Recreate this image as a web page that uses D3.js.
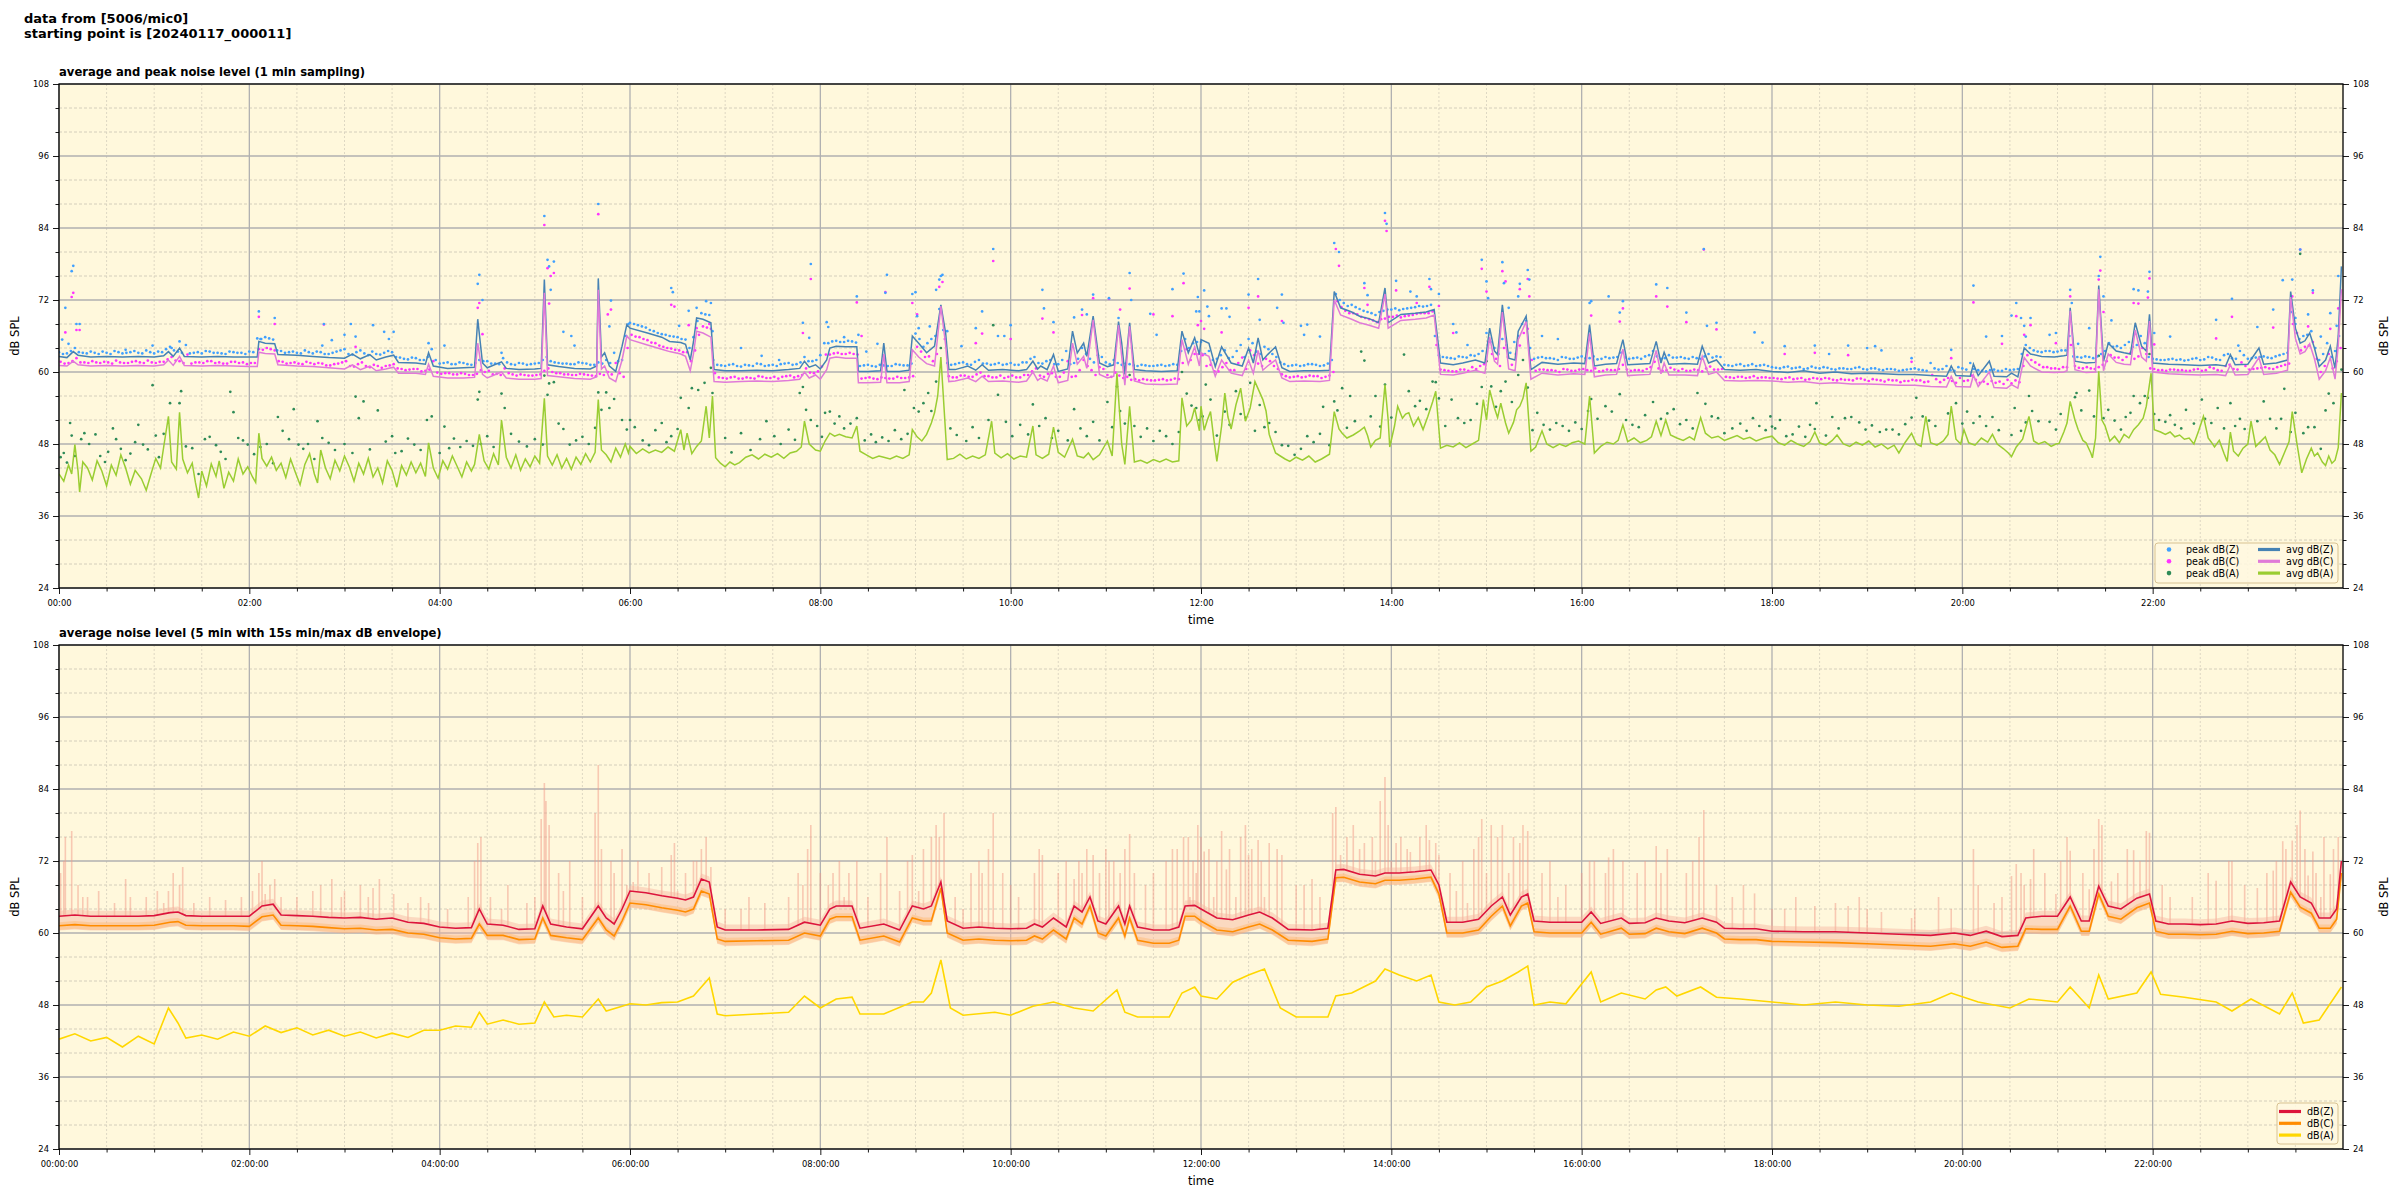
<!DOCTYPE html>
<html><head><meta charset="utf-8">
<script src="https://cdn.jsdelivr.net/npm/d3@7"></script>
<style>
body{margin:0;background:#fff}
svg text{font-family:"DejaVu Sans",sans-serif;fill:#000}
</style>
</head><body>
<svg id="c" width="2400" height="1200"></svg>
<script>
// ---------------- DATA (minutes since 00:00, dB SPL) ----------------
const hourTicks = [0,2,4,6,8,10,12,14,16,18,20,22];
const dbTicks = [24,36,48,60,72,84,96,108];

const avgZ = [[0,62.6],[5,62.4],[9,63.4],[12,62.8],[20,62.5],[30,62.6],[40,62.5],[50,62.6],[60,62.5],[66,62.7],[69,63.4],[72,62.6],[76,64],[79,62.6],[90,62.5],[100,62.6],[110,62.5],[120,62.5],[125,62.5],[126,65.1],[130,64.8],[136,64.7],[138,62.9],[150,62.8],[160,62.6],[170,62.4],[180,62.3],[185,63.0],[190,62.2],[196,62.9],[200,62],[206,62.5],[211,62.8],[214,61.6],[225,61.5],[231,61.3],[233,63.2],[236,61.0],[245,60.6],[255,60.7],[262,60.8],[264,68.8],[267,61.5],[270,60.7],[279,61.7],[282,60.6],[290,60.4],[300,60.5],[304,60.6],[306,75.4],[308,61.2],[315,60.9],[325,60.6],[335,60.5],[339,61],[340,75.6],[342,62.5],[344,63.2],[347,61],[351,60.1],[355,64.3],[358,67.9],[360,67.3],[371,66.5],[380,65.8],[385,65.1],[392,64.9],[395,64.6],[398,62],[400,65],[402,69],[406,68.8],[411,68.2],[413,60.4],[420,60.2],[430,60.2],[440,60.3],[450,60.2],[460,60.4],[467,60.6],[470,61.8],[473,60.8],[477,61.2],[480,60.5],[484,62],[486,64],[490,64.3],[496,64.2],[503,64.2],[504,60.1],[510,60.1],[518,60.2],[520,64.8],[522,60.1],[530,60.1],[536,60.3],[538,66],[542,64.8],[547,63.2],[552,64.3],[556,71.2],[559,66.5],[561,60.4],[565,60.4],[573,61],[578,60.3],[582,61.2],[586,60.3],[595,60.4],[605,60.2],[610,60.4],[614,61.8],[617,60.5],[619,61],[623,60.4],[627,62.9],[630,60.1],[636,60.5],[639,66.8],[642,63.2],[646,64.8],[648,62.6],[652,69.3],[656,61.5],[661,60.9],[665,61.2],[668,68.4],[670,64.8],[672,59.6],[675,68.2],[678,60.4],[685,60.2],[695,60.1],[705,60.2],[708,66.8],[712,63.2],[716,65.7],[719,62.9],[720,65.4],[725,64.8],[729,60.9],[733,64.2],[739,61.5],[746,61],[750,64],[753,61.5],[756,65.7],[759,62],[762,62.9],[767,64.2],[771,60.7],[776,60.1],[785,60.2],[795,60.2],[801,60.3],[804,73.4],[808,70.7],[815,70],[820,69.3],[826,68.9],[832,68.2],[836,74],[838,68.2],[846,69.6],[855,69.8],[862,70],[867,70.4],[871,61.5],[879,61.2],[885,61.5],[893,62],[899,61.5],[902,67.3],[905,63.5],[907,62.9],[910,71.2],[914,62.3],[918,62],[920,66.8],[925,69.3],[928,60.4],[935,61.6],[945,61.3],[955,61.5],[962,61.4],[965,67.9],[968,61],[975,61.3],[982,61.4],[986,65.4],[989,61.2],[995,61.3],[1003,61.4],[1007,65.1],[1010,61.5],[1012,63.3],[1015,61.3],[1025,61.4],[1033,61.3],[1036,64.3],[1040,61.5],[1045,62],[1050,60.4],[1060,60.3],[1070,60.4],[1080,60.1],[1090,59.9],[1100,60.2],[1110,59.8],[1120,60],[1130,59.7],[1140,59.8],[1150,59.7],[1160,59.6],[1170,59.6],[1180,59.4],[1190,59.3],[1193,61],[1196,59.4],[1205,59.3],[1207,61.3],[1210,59.4],[1217,61.8],[1220,59.3],[1228,59.2],[1231,59.8],[1235,59.2],[1239,64],[1243,63],[1250,62.6],[1258,62.5],[1264,62.7],[1266,62.8],[1268,70.7],[1271,61.8],[1278,61.5],[1284,61.6],[1286,74.4],[1289,61.8],[1292,64.8],[1297,63.5],[1302,63.2],[1306,63],[1309,68.2],[1313,64.3],[1316,63.5],[1318,69.6],[1320,61.5],[1330,61.3],[1340,61.2],[1350,61.1],[1360,61.2],[1366,61],[1369,62.9],[1372,61.2],[1380,61.3],[1387,64],[1390,61.3],[1398,61.5],[1405,62],[1407,73.4],[1410,67.3],[1413,64.8],[1416,65.2],[1419,66.5],[1422,64],[1425,60.9],[1429,62],[1432,64.3],[1435,60.6],[1437,66],[1439,77.6]];

const avgC = [[0,61.1],[5,61],[9,61.8],[12,61.2],[20,61],[30,61.1],[40,61],[50,61.1],[60,61],[66,61.2],[69,62],[72,61.1],[76,62.6],[79,61.1],[90,61],[100,61.1],[110,61],[120,60.9],[125,60.9],[126,63.3],[130,63.1],[136,63],[138,61.2],[150,61],[160,60.9],[170,60.7],[180,60.5],[185,61.2],[190,60.4],[196,61],[200,60.2],[206,60.5],[211,60.8],[214,59.8],[225,59.8],[231,59.6],[233,61.3],[236,59.3],[245,59],[255,59],[262,59.1],[264,64.8],[267,59.6],[270,59],[279,60],[282,59],[290,58.8],[300,58.8],[304,58.9],[306,73.2],[308,59.4],[315,59.2],[325,58.9],[335,58.8],[339,59.2],[340,73.7],[342,60.5],[344,61],[347,59],[351,58.4],[355,62],[358,66],[360,65.4],[371,64.5],[380,63.8],[385,63.4],[392,63],[395,62.6],[398,60.2],[400,63],[402,66.8],[406,66.5],[411,65.8],[413,58.4],[420,58.3],[430,58.4],[440,58.5],[450,58.4],[460,58.6],[467,58.8],[470,60],[473,59],[477,59.5],[480,58.8],[484,60.4],[486,62.3],[490,62.5],[496,62.3],[503,62.3],[504,58.2],[510,58.2],[518,58.3],[520,63],[522,58.2],[530,58.2],[536,58.4],[538,63.7],[542,62.5],[547,61.4],[552,61],[556,71],[559,64.5],[561,58.4],[565,58.5],[573,59],[578,58.4],[582,59.3],[586,58.4],[595,58.5],[605,58.3],[610,58.5],[614,60],[617,58.6],[619,59],[623,58.5],[627,61],[630,58.2],[636,58.6],[639,64.8],[642,61.3],[646,62.6],[648,60.6],[652,68.7],[656,59.6],[661,59],[665,59.3],[668,67.8],[670,62.6],[672,57.8],[675,67.6],[678,58.5],[685,58],[695,57.9],[705,58],[708,65.4],[712,61.3],[716,64.2],[719,61],[720,63.2],[725,62.6],[729,59.3],[733,62],[739,59.8],[746,59.4],[750,62],[753,59.8],[756,63.6],[759,60.3],[762,61],[767,62],[771,59],[776,58.4],[785,58.5],[795,58.4],[801,58.6],[804,72],[808,69.5],[815,68.8],[820,68.2],[826,67.8],[832,67.3],[836,73],[838,67.3],[846,68.6],[855,68.8],[862,69],[867,69.5],[871,59.6],[879,59.5],[885,59.8],[893,60.3],[899,59.8],[902,65.8],[905,61.8],[907,61.3],[910,70],[914,60.5],[918,60.2],[920,65.4],[925,68.4],[928,58.8],[935,59.8],[945,59.5],[955,59.7],[962,59.6],[965,66.4],[968,59.2],[975,59.5],[982,59.6],[986,63.8],[989,59.4],[995,59.5],[1003,59.6],[1007,63.6],[1010,59.7],[1012,61.5],[1015,59.5],[1025,59.5],[1033,59.4],[1036,62.6],[1040,59.6],[1045,60],[1050,58.6],[1060,58.5],[1070,58.6],[1080,58.5],[1090,58.3],[1100,58.4],[1110,58.1],[1120,58.2],[1130,58],[1140,58],[1150,57.9],[1160,57.8],[1170,57.8],[1180,57.6],[1190,57.5],[1193,59.3],[1196,57.6],[1205,57.5],[1207,59.5],[1210,57.6],[1217,60],[1220,57.4],[1228,57.3],[1231,57.9],[1235,57.3],[1239,62.4],[1243,61],[1250,60],[1258,59.9],[1264,60],[1266,60.2],[1268,70.2],[1271,60.4],[1278,59.9],[1284,60],[1286,73.8],[1289,60.2],[1292,63],[1297,61.6],[1302,61.3],[1306,61.2],[1309,67],[1313,62.5],[1316,61.8],[1318,68.5],[1320,60],[1330,59.7],[1340,59.6],[1350,59.5],[1360,59.6],[1366,59.4],[1369,61.2],[1372,59.5],[1380,59.6],[1387,62.4],[1390,59.6],[1398,59.8],[1405,60.3],[1407,72.5],[1410,65.6],[1413,63],[1416,63.4],[1419,64.7],[1422,62.2],[1425,58.8],[1429,60.2],[1432,62.4],[1435,58.8],[1437,64.4],[1439,73.8]];

const avgA = [[0,43],[3,41.8],[6,44.5],[8,43],[10,47.9],[12,43.5],[13,40],[15,45],[18,44],[21,42],[24,45.2],[27,43.5],[30,41],[33,44.5],[36,42.8],[39,46.2],[42,44],[45,41.3],[48,43.6],[52,42.2],[55,40.3],[58,43],[61,45.6],[64,44],[66,47.5],[69,52.6],[71,45],[74,43.8],[76,53.3],[78,45.5],[81,43.2],[84,44.8],[86,41.6],[88,39],[90,43.5],[93,41],[96,44.7],[99,42.6],[101,45.2],[104,40.6],[107,43.3],[110,41.8],[113,45.5],[116,43],[119,44.2],[122,42.5],[124,41.6],[126,49.8],[128,45.6],[131,44.3],[134,45.8],[137,43.6],[140,44.8],[143,42.4],[146,45.5],[149,43.3],[152,41.2],[155,44.6],[158,46.4],[161,43],[163,41.5],[165,47],[168,44],[171,42.2],[174,45.3],[177,43.5],[180,46],[183,44.2],[186,41.8],[189,44.8],[192,43],[195,45.6],[198,42.5],[201,44],[204,41.5],[207,45.2],[210,43.6],[213,40.8],[216,44.4],[219,42.8],[222,45],[225,43.2],[228,44.8],[231,42.6],[233,48.2],[236,44],[239,42.3],[242,45.2],[245,43.8],[248,46],[251,44.3],[254,42.5],[257,45],[260,43.5],[262,44.6],[265,49.6],[268,45.2],[271,43.8],[274,46.4],[277,44.5],[279,52],[282,45.8],[285,44],[288,46.2],[291,43.6],[294,45.5],[297,44.2],[300,46],[303,44.8],[306,55.6],[308,46],[311,44.5],[314,46.2],[317,44],[320,45.6],[323,43.8],[326,45.8],[329,44.6],[332,46.4],[335,45],[338,46.6],[340,55.4],[342,47],[345,46.2],[348,45],[351,47.3],[354,45.8],[357,48],[359,46.5],[360,47.6],[364,46.4],[368,47.2],[372,46.5],[376,47],[380,46.6],[384,47.5],[388,46.8],[392,50.4],[394,47],[396,49.8],[399,46.4],[402,47.6],[405,48.5],[408,54.3],[410,49],[412,56],[414,45.7],[417,44.8],[420,44.2],[423,45],[426,44.5],[429,44.9],[433,45.8],[437,46.2],[441,45.5],[445,46.3],[449,45.8],[453,46.4],[457,45.6],[461,46.5],[465,46.8],[468,47.5],[470,51.8],[473,48],[477,47],[480,46.8],[483,48.5],[486,49.8],[489,49.3],[492,49.6],[496,49.2],[500,49],[503,51],[505,46.8],[509,46.2],[513,45.6],[517,46],[520,45.8],[524,45.5],[528,46],[532,45.6],[536,46.2],[538,50.4],[541,49.2],[544,48.5],[547,49.6],[550,51.5],[552,53.2],[554,56],[556,62.5],[558,54],[560,45.4],[564,45.6],[568,46.3],[572,45.5],[576,46],[580,45.6],[584,46.2],[588,51.8],[590,46.5],[594,45.7],[598,46.4],[602,45.5],[606,46],[610,45.8],[614,51],[616,46.2],[620,45.6],[624,46.3],[627,50.8],[630,46.6],[634,45.8],[639,48.8],[642,46],[646,45.7],[649,46.5],[652,45.4],[656,46.2],[661,48.5],[664,46],[667,59.8],[670,48],[672,44.6],[675,54.3],[678,45],[682,45.3],[686,44.8],[690,45.4],[694,45],[698,45.5],[702,45],[706,45.2],[708,55.7],[711,51],[714,52],[716,54],[719,50.2],[720,54.3],[722,50.3],[724,52],[726,53.4],[728,49],[730,45.1],[733,51],[735,56.5],[737,52.5],[739,50.5],[742,54.5],[745,57.3],[748,51.8],[751,54],[754,58.4],[757,56.6],[759,55.4],[761,53.5],[763,49.6],[765,48],[767,46.5],[770,46],[773,45.5],[776,45.1],[780,45.8],[784,45.3],[788,46],[792,45],[796,45.5],[801,46.3],[804,53.4],[807,50.5],[809,49.8],[812,49],[816,49.5],[820,50.2],[823,50.8],[825,49.4],[827,47.5],[830,48.6],[833,49],[836,57.9],[838,52],[839,47.5],[842,51],[844,54.3],[847,52.3],[849,53],[851,53.2],[854,51],[857,52.4],[860,50.4],[863,52.6],[866,55],[868,56.8],[871,47.3],[875,47.8],[879,47.5],[883,48.2],[887,47.4],[891,48],[895,48.6],[898,55.4],[900,52],[902,57],[905,54],[907,52.4],[909,54.8],[912,51.5],[914,49.8],[917,51.6],[919,53.7],[921,54.3],[923,55.6],[925,58.2],[928,46.8],[931,47.5],[935,50.2],[938,48],[942,47.4],[946,48],[950,47.6],[954,48.2],[958,48.5],[962,48],[965,56],[968,46.5],[972,47.6],[976,48.3],[980,48],[983,48.6],[986,51.2],[989,48.4],[993,49],[997,48.2],[1001,48.6],[1004,49.2],[1007,51.8],[1010,49.4],[1013,52],[1016,49.5],[1020,49],[1024,48.6],[1028,49.2],[1031,48.7],[1035,52.4],[1038,49.8],[1042,49],[1046,49.3],[1050,48.6],[1054,49],[1058,49.4],[1062,48.8],[1066,49.1],[1070,48.5],[1075,49],[1080,49.3],[1084,48.2],[1088,47.8],[1092,48.6],[1096,48],[1100,47.6],[1104,48.4],[1107,50],[1110,48.2],[1114,47.8],[1118,48.6],[1121,49.5],[1125,48],[1129,47.6],[1133,48.3],[1137,47.8],[1141,48.5],[1145,47.5],[1149,48],[1153,47.2],[1157,47.8],[1160,46.5],[1164,48.3],[1168,49.8],[1171,48],[1174,47.6],[1177,52.6],[1180,48.2],[1184,47.8],[1188,48.5],[1191,49.6],[1193,54.3],[1196,48.8],[1199,48],[1201,50.4],[1204,48.2],[1208,47.8],[1212,49],[1216,48.3],[1219,49.6],[1222,48],[1226,47.2],[1229,46.5],[1231,45.9],[1234,47.5],[1238,48.8],[1242,52.6],[1245,48.5],[1248,48],[1252,48.4],[1256,47.6],[1259,48],[1261,48.1],[1264,50],[1266,51.5],[1268,55.1],[1271,52],[1273,50.4],[1276,48.6],[1278,48.2],[1281,46.5],[1282,45.7],[1284,49],[1286,60.1],[1288,52],[1290,51],[1293,48.5],[1296,49.3],[1299,48.2],[1302,49.6],[1305,49],[1308,50.4],[1311,51.2],[1314,52.3],[1316,54.3],[1319,59.8],[1321,50.4],[1325,50],[1328,49.6],[1331,50],[1334,49.2],[1337,49.5],[1340,48.8],[1343,49],[1346,48],[1349,50.2],[1352,52.6],[1355,49],[1357,48.3],[1359,47.5],[1362,48.6],[1365,46.4],[1367,45.1],[1369,50],[1371,46.8],[1374,46],[1377,47.3],[1380,48],[1382,51.8],[1385,47.6],[1388,48.4],[1391,49.2],[1394,47],[1397,46.2],[1400,44.6],[1403,46.5],[1406,48.4],[1408,53.4],[1411,48],[1414,43.2],[1417,45.5],[1420,47.3],[1422,46],[1424,46.5],[1427,45],[1429,44.4],[1431,46],[1433,44.8],[1435,45.3],[1437,47.4],[1439,56.5]];

// dense peak bands: value at minute index*5 (band1) and index*5+2.5 (band2)
const peakZband = [63.3,63.1,64.0,63.2,63.4,63.0,63.2,63.5,63.1,63.3,63.2,63.6,63.1,63.3,64.2,63.4,64.5,63.2,63.1,63.4,63.2,63.0,63.3,63.2,63.4,65.6,65.8,65.4,63.5,63.3,63.2,63.6,63.1,63.3,63.0,63.4,63.8,62.9,63.6,62.8,63.0,63.2,63.3,62.4,62.1,62.3,62.0,63.8,61.4,61.6,61.3,61.5,61.2,62.0,61.8,61.4,62.3,61.3,61.5,61.2,61.4,62.0,61.8,61.5,61.4,61.3,61.5,61.2,61.6,62.0,63.2,62.0,68.2,67.8,67.4,66.8,66.3,66.0,65.8,65.4,65.8,69.8,69.5,61.2,61.0,61.3,60.9,61.1,61.4,61.0,61.2,61.3,61.5,61.3,62.5,61.8,62.8,64.8,65.2,65.0,65.1,61.0,61.2,60.9,61.1,61.0,61.2,61.1,66.4,64.2,65.5,70.5,61.5,61.3,61.6,61.2,62.0,61.4,61.3,61.2,61.5,61.2,61.6,62.5,61.4,62.0,61.3,63.5,61.5,64.0,62.2,62.8,61.6,62.0,61.2,61.3,61.0,61.1,61.0,61.2,61.1,61.2,65.5,64.8,65.0,63.5,62.2,63.6,62.5,64.5,65.5,63.4,64.2,63.0,61.6,61.0,61.2,61.1,61.3,61.0,61.4,73.0,71.5,71.2,70.5,70.0,69.5,70.2,70.4,70.3,70.6,70.8,70.9,71.2,62.8,62.4,62.2,62.5,62.8,63.0,66.5,64.0,65.5,63.2,66.0,68.5,62.2,62.5,62.3,62.0,62.4,62.2,62.6,62.3,62.1,62.5,62.4,63.2,62.2,62.4,62.6,63.5,62.2,62.8,62.4,62.3,62.5,62.2,63.0,62.6,61.2,61.0,61.3,61.1,61.0,61.2,60.8,60.6,60.9,60.7,60.5,60.9,60.6,60.7,60.4,60.6,60.5,60.8,60.4,60.6,60.3,60.5,60.2,60.4,60.6,60.3,61.5,60.4,61.0,60.2,60.6,61.5,60.3,60.1,60.4,60.2,60.3,60.5,64.5,63.6,63.3,63.5,63.4,63.6,62.6,62.4,62.5,62.6,63.5,64.2,64.0,65.0,64.5,64.8,62.2,62.0,62.1,62.0,61.9,62.2,62.0,62.5,62.1,62.8,62.3,63.5,62.2,62.4,62.6,62.3,62.8,63.2,68.0,66.0,66.8,62.0,64.8,63.5];
const peakZband2 = [63.0,63.5,63.3,63.1,63.2,63.4,63.0,63.3,63.2,63.5,63.1,63.3,63.4,63.8,63.6,63.2,63.1,63.3,63.5,63.2,63.1,63.4,63.2,63.0,63.3,65.5,65.6,63.6,63.2,63.4,63.1,63.3,63.4,63.0,63.2,63.6,63.0,63.3,63.1,63.4,62.9,63.5,62.5,62.2,62.4,62.0,62.5,62.0,61.5,61.3,61.6,61.3,61.5,61.8,61.4,61.3,61.6,61.2,61.4,61.3,61.5,62.5,61.6,61.4,61.3,61.6,61.4,61.2,61.4,61.5,61.8,66.0,68.0,67.6,67.0,66.5,66.2,65.9,65.5,64.0,68.5,69.6,62.0,61.1,61.2,61.0,61.2,61.0,61.3,61.1,61.0,61.4,61.2,61.6,61.8,62.0,64.8,65.1,65.0,65.2,64.9,61.1,61.0,61.2,61.0,61.3,61.1,61.4,65.5,64.8,66.0,67.0,61.2,61.5,61.3,61.7,61.4,61.2,61.5,61.3,61.2,61.6,62.2,61.5,61.8,61.3,62.0,61.3,62.2,63.0,61.6,62.5,61.3,61.5,61.4,61.1,61.2,61.0,61.1,61.0,61.3,63.5,64.0,65.0,63.0,62.0,62.8,62.3,63.5,62.5,64.8,63.0,63.8,62.5,61.3,61.1,61.0,61.3,61.2,61.1,62.0,72.0,71.0,70.8,70.2,69.8,70.0,70.4,70.6,70.5,70.7,71.0,71.0,66.0,62.5,62.3,62.6,62.4,62.7,63.5,65.0,63.0,64.5,65.0,68.0,64.0,62.4,62.3,62.2,62.5,62.2,62.4,62.3,62.6,62.2,62.3,62.5,62.4,62.3,62.2,62.8,62.6,62.3,62.4,62.5,62.2,62.3,62.6,62.4,62.5,61.1,61.2,61.0,61.3,61.1,61.0,60.7,60.8,60.6,60.8,60.6,60.7,60.8,60.5,60.6,60.5,60.7,60.5,60.6,60.4,60.5,60.4,60.3,60.5,60.4,60.2,60.6,60.5,60.3,60.8,60.4,60.5,60.2,60.3,60.2,60.5,60.4,63.0,64.0,63.4,63.5,63.3,63.6,66.0,62.5,62.6,62.3,63.0,64.8,64.3,64.5,64.2,66.0,62.5,62.1,62.0,62.2,62.1,62.0,62.3,62.1,62.4,62.0,63.0,62.2,62.8,62.3,62.5,62.4,62.6,63.0,70.0,65.5,66.2,64.0,63.0,62.5,66.0];
const peakCband = [61.7,61.5,62.3,61.6,61.8,61.5,61.6,61.9,61.5,61.7,61.6,61.9,61.5,61.7,62.5,61.8,62.9,61.6,61.5,61.8,61.6,61.4,61.7,61.6,61.5,63.8,64.0,63.6,61.7,61.5,61.4,61.7,61.3,61.4,61.1,61.4,61.8,60.9,61.6,60.8,61.0,61.0,61.3,60.5,60.4,60.5,60.2,61.8,59.7,59.8,59.6,59.7,59.5,60.3,60.2,59.7,60.6,59.6,59.6,59.4,59.5,60.2,60.0,59.8,59.6,59.5,59.6,59.4,59.7,60.0,61.5,59.2,66.2,65.8,65.3,64.8,64.2,63.9,63.6,63.3,63.6,67.6,67.2,59.1,58.9,59.2,58.9,59.0,59.3,59.0,59.2,59.2,59.4,59.3,60.6,59.8,60.9,62.9,63.2,63.0,63.0,58.9,59.1,58.8,59.0,58.9,59.0,59.1,64.2,62.5,61.8,70.0,59.3,59.1,59.4,59.2,59.9,59.3,59.1,59.0,59.4,59.1,59.5,60.6,59.2,59.8,59.2,61.8,59.3,62.0,60.3,60.8,59.5,59.9,59.0,58.7,58.6,58.7,58.6,58.8,58.7,58.8,63.8,63.0,62.8,61.2,60.1,61.5,60.3,62.4,63.6,61.4,62.2,61.0,59.6,59.1,59.3,59.2,59.3,59.0,59.4,71.8,70.2,69.8,69.2,68.8,68.3,68.9,69.2,69.1,69.4,69.7,69.8,70.1,60.4,60.2,60.1,60.4,60.8,61.0,65.0,62.2,64.0,61.2,64.4,67.2,60.2,60.4,60.3,60.0,60.4,60.2,60.5,60.2,60.1,60.4,60.3,61.2,60.2,60.3,60.5,61.7,60.2,60.7,60.2,60.2,60.4,60.1,60.9,60.4,59.2,59.0,59.2,59.1,59.0,59.1,59.0,58.8,59.1,58.9,58.7,59.0,58.8,58.9,58.6,58.7,58.6,58.9,58.5,58.7,58.4,58.6,58.3,58.5,58.6,58.3,59.5,58.3,59.0,58.2,58.5,59.4,58.2,58.0,58.2,58.0,58.1,58.3,62.8,61.6,60.8,60.6,60.5,60.8,61.0,60.6,60.6,60.8,61.8,62.4,62.0,63.2,62.6,63.0,60.5,60.3,60.4,60.3,60.2,60.4,60.2,60.8,60.3,61.0,60.5,61.6,60.4,60.6,60.8,60.5,61.0,61.4,66.5,64.2,65.0,60.0,63.0,61.8];
const peakCband2 = [61.4,61.8,61.6,61.5,61.6,61.7,61.4,61.6,61.5,61.8,61.5,61.6,61.7,62.1,61.9,61.5,61.4,61.6,61.8,61.5,61.4,61.7,61.5,61.3,61.5,63.7,63.8,61.8,61.4,61.6,61.3,61.5,61.5,61.1,61.3,61.6,61.0,61.3,61.0,61.2,60.7,61.1,60.6,60.3,60.5,60.1,60.4,59.9,59.8,59.6,59.8,59.5,59.7,60.0,59.6,59.5,59.8,59.4,59.5,59.4,59.6,60.6,59.8,59.6,59.5,59.7,59.5,59.3,59.5,59.6,59.8,64.0,65.9,65.5,64.9,64.4,64.0,63.7,63.3,61.8,66.2,67.4,59.8,59.0,59.1,58.9,59.1,58.9,59.2,59.0,58.9,59.3,59.1,59.5,59.9,60.1,62.9,63.1,63.0,63.2,62.9,59.0,58.9,59.1,58.9,59.2,59.0,59.3,63.4,62.6,63.0,65.5,59.1,59.4,59.2,59.6,59.3,59.1,59.4,59.2,59.1,59.5,60.1,59.4,59.7,59.2,59.9,59.2,60.3,61.0,59.5,60.5,59.2,59.4,59.2,58.8,58.8,58.6,58.7,58.6,58.9,61.5,62.0,63.0,61.0,60.1,60.8,60.3,61.5,60.5,62.8,61.0,61.8,60.5,59.3,59.2,59.1,59.4,59.3,59.2,60.0,70.8,69.8,69.6,69.0,68.6,68.8,69.2,69.4,69.3,69.5,69.8,69.8,64.5,60.3,60.1,60.4,60.2,60.5,61.3,63.0,61.0,62.5,63.0,66.5,62.0,60.4,60.3,60.2,60.5,60.2,60.4,60.3,60.6,60.2,60.3,60.5,60.4,60.3,60.2,60.8,60.6,60.3,60.4,60.5,60.2,60.3,60.6,60.4,60.5,59.1,59.2,59.0,59.3,59.1,59.0,58.9,59.0,58.8,59.0,58.8,58.9,59.0,58.7,58.8,58.7,58.9,58.7,58.8,58.6,58.7,58.6,58.5,58.7,58.6,58.4,58.8,58.7,58.5,59.0,58.6,58.7,58.4,58.5,58.4,58.7,58.6,61.0,62.0,61.2,60.8,60.6,60.8,64.5,60.7,60.8,60.5,61.2,62.8,62.4,62.5,62.2,64.0,60.6,60.3,60.2,60.4,60.3,60.2,60.5,60.3,60.6,60.2,61.2,60.4,61.0,60.5,60.7,60.6,60.8,61.2,68.0,63.6,64.4,62.2,61.0,60.6,64.0];

const peakZout = [[2,65.4],[4,70.7],[6,64.7],[8,76.8],[9,77.7],[11,68],[13,68],[42,63.7],[59,64.4],[71,64],[76,65.1],[126,70.1],[127,65.5],[136,69],[166,64.4],[167,68],[172,65.3],[180,66.2],[184,68],[187,65.9],[198,67.8],[205,66.7],[208,65.5],[211,66.7],[233,64.8],[243,64.4],[264,74.7],[265,76.2],[267,72],[279,63.2],[306,86],[308,78.7],[309,77.6],[310,73.7],[312,78.4],[318,66.7],[323,66],[325,64.4],[340,88],[347,67.6],[348,71.9],[359,68],[386,74],[387,73.3],[391,67.7],[397,70.2],[402,70.7],[408,71.8],[411,71.5],[412,66.8],[430,64],[443,62.7],[454,62],[469,68.2],[473,65.7],[474,78],[484,68.3],[485,67.5],[495,65.8],[503,72.6],[504,66.2],[509,63.4],[516,64.7],[521,73.2],[522,76.2],[538,73],[540,73.3],[541,69.3],[542,67.3],[549,67.6],[553,73.7],[555,75.4],[556,76],[557,76.2],[560,66.8],[569,64.3],[578,67.3],[582,70.1],[589,80.5],[592,66],[596,66],[600,67.8],[620,73.7],[621,70.6],[627,68.3],[640,69.1],[645,70.4],[648,69.6],[652,72.9],[662,72.3],[668,69],[675,76.5],[676,72],[688,69.7],[692,66.2],[702,73.8],[709,76.4],[717,70.1],[718,72.5],[719,70.1],[722,73.6],[724,70.9],[725,69.3],[733,70.6],[736,70.6],[738,69.2],[750,72.9],[756,75.5],[757,68.7],[768,70.7],[771,72.9],[772,68.2],[783,67.7],[785,66.2],[787,67.9],[795,65.9],[804,81.5],[807,80],[823,74.8],[825,72.8],[836,86.5],[837,84.7],[843,75.2],[852,73.4],[856,72.6],[864,75.5],[865,73.8],[870,73],[879,68],[881,66.6],[888,64.5],[897,78.7],[900,75.1],[901,72.3],[910,78.3],[911,74.8],[914,70.7],[920,72.6],[921,74.7],[926,77],[927,75.4],[935,66],[945,65.5],[965,71.5],[966,71.8],[977,72.6],[984,69.9],[986,71.8],[1007,74.6],[1014,74],[1026,69.9],[1037,80.5],[1039,67.7],[1045,68.2],[1069,66.6],[1074,64.9],[1088,64.3],[1107,64.4],[1116,63],[1128,64.4],[1140,64],[1145,64.3],[1149,63.6],[1168,62.3],[1193,63.7],[1207,74.4],[1215,65.9],[1225,66],[1231,69.4],[1234,71.5],[1237,69],[1239,67.7],[1240,65.9],[1243,69],[1255,66.2],[1259,66.5],[1268,73.7],[1269,71.5],[1273,64.7],[1280,67.3],[1286,76],[1287,79.2],[1289,72.6],[1294,68.6],[1308,73.8],[1311,73.6],[1317,73.4],[1318,76.7],[1321,66.5],[1331,65.9],[1360,68.7],[1370,72.2],[1374,64.4],[1386,67.5],[1396,70.4],[1402,75.3],[1408,75.4],[1410,69],[1413,80.4],[1418,69.6],[1421,73.6],[1426,65.9],[1432,69.8],[1436,67.7],[1437,76]];
const peakCout = [[4,66.6],[8,72.5],[9,73.2],[11,67],[13,67],[126,69.2],[136,68],[167,67.9],[187,64.2],[264,70.7],[265,71.5],[267,66.3],[306,84.5],[308,77.3],[309,71.4],[310,76],[312,76.5],[346,69.6],[348,70.4],[340,86.3],[386,71.2],[388,70.9],[397,67.8],[402,67.3],[410,68],[469,66.5],[474,75.5],[503,71.6],[506,66],[521,73.3],[538,71.5],[541,69.6],[555,74.2],[557,75],[578,64.8],[582,66.4],[589,78.5],[600,65.5],[620,68.9],[627,66.6],[645,69.5],[652,72.3],[662,72.2],[669,70.4],[675,73.9],[690,69.6],[702,69.3],[709,74.8],[718,67.8],[720,68.5],[722,67.2],[733,66.6],[750,70.7],[756,72.6],[771,68.5],[805,80.5],[807,77.7],[823,74],[825,71.2],[836,85.2],[837,83.5],[843,73.6],[856,71.5],[864,74.2],[870,71],[879,66.5],[897,77.2],[900,73.4],[910,76.8],[912,75.1],[921,73.8],[926,75.5],[927,72.6],[966,69.4],[984,68.4],[986,70.6],[1007,72.6],[1014,70.9],[1026,68.3],[1037,80.4],[1045,67.1],[1088,63],[1107,63.2],[1128,62.8],[1168,61.7],[1193,62.3],[1207,71.6],[1225,64.7],[1234,69.3],[1239,66.2],[1243,67.8],[1259,64.8],[1268,72.6],[1286,75.4],[1287,76.9],[1289,70],[1308,71.5],[1311,71.4],[1317,72.4],[1318,75.6],[1321,64.6],[1360,65.6],[1370,69.2],[1396,67.4],[1408,72.6],[1413,80.4],[1418,67.6],[1421,73.2],[1432,67.2],[1437,70.6]];
const peakA = [[1,45.8],[3,46.5],[5,44.9],[7,51.5],[8,49.4],[10,46],[14,48.8],[16,49.8],[19,48],[23,49.6],[26,46],[29,45],[31,46.7],[34,50.6],[36,48.8],[39,47.2],[42,45.3],[45,46.4],[48,48.3],[50,51.2],[53,47.9],[56,47.1],[59,57.8],[61,49.4],[63,45.8],[66,49.7],[70,54.8],[76,54.8],[77,56.8],[80,47.6],[84,47.3],[88,43],[92,48.8],[95,49.2],[99,47.8],[102,46.7],[105,45.5],[108,56.7],[110,53.3],[113,49],[116,48.6],[119,47.9],[123,46.3],[127,47.5],[131,48],[135,44.8],[138,52.5],[141,50.2],[145,48.8],[148,53.8],[151,47.9],[154,47.2],[157,48],[161,45.5],[163,51.8],[166,49],[170,48.2],[174,47],[180,48],[185,46.5],[187,55.9],[189,52.3],[192,55.1],[196,47.1],[201,53.6],[206,48.4],[210,49.3],[212,46.5],[216,46.8],[220,48.9],[224,47.9],[228,47],[232,52],[235,52.6],[240,46.5],[243,50.9],[246,47.3],[249,48.9],[253,47.5],[257,48.5],[261,47.7],[264,55.4],[265,56.7],[266,48],[270,49.3],[274,47.5],[279,56.4],[281,54],[285,49.7],[290,48.4],[295,47.6],[300,48.8],[305,47.9],[306,59.4],[308,56.2],[309,58.1],[312,58.3],[315,51.4],[318,50.5],[322,47.9],[326,48.6],[330,49.2],[334,48],[338,50.7],[340,56.6],[342,53.7],[345,56.6],[347,54],[350,55.5],[355,52],[358,50.4],[360,52],[363,50.8],[368,48.6],[372,47.8],[376,50.3],[380,51.5],[383,48.3],[386,49.3],[390,50.5],[392,55.7],[397,54],[399,57.3],[403,57],[407,58.2],[411,60.7],[412,56.5],[420,49],[424,46.6],[430,49.8],[436,47],[442,48.8],[446,51.8],[451,49.3],[455,48],[460,50.4],[464,48.7],[467,56.5],[469,57.5],[471,53.7],[474,52],[478,51],[481,49.2],[483,53.2],[486,53.4],[489,51.4],[492,52.6],[495,50.6],[499,51.4],[503,52.3],[508,48.6],[512,49.6],[515,48.3],[519,49.1],[523,48.5],[527,50.3],[531,48.8],[533,57],[535,49.7],[539,54],[542,53.4],[545,54.8],[548,56.5],[550,53.5],[553,58.4],[556,64],[562,50.6],[566,49.5],[572,48.5],[576,50.8],[580,49],[586,52],[589,67.8],[592,56.2],[597,51.7],[601,49.3],[606,51.2],[611,49.6],[614,54.6],[618,51],[622,52.3],[626,49],[630,50.2],[636,48.6],[640,53.8],[644,50.6],[648,49.3],[652,51.7],[656,48.6],[661,55],[664,50.8],[667,57.6],[669,53.5],[672,51.4],[675,59.5],[678,51],[682,49.2],[686,50.6],[690,48.5],[694,50.2],[698,49.3],[702,48],[706,50],[708,60],[711,56.4],[714,54.4],[717,54],[719,52],[721,52.6],[723,57.9],[726,55.4],[730,49.4],[735,53.4],[738,51.2],[742,56.8],[745,53],[748,52.4],[751,58.2],[754,50.2],[757,54.5],[760,50.8],[763,51.5],[767,50],[771,47.8],[775,47.7],[779,46.2],[783,47.2],[787,49.3],[791,48.3],[795,49.7],[797,54.2],[801,47.8],[804,55.1],[806,53.6],[809,57.3],[812,50.7],[814,56],[817,51.8],[821,63.4],[823,61.9],[827,52.6],[830,56],[833,50.9],[836,57.9],[840,52.4],[848,62.9],[851,56.8],[855,54.3],[858,55.2],[862,53.8],[866,58.4],[868,58.3],[870,55.6],[874,51],[878,55.4],[882,52.3],[886,51.5],[890,52],[894,54.7],[897,57.5],[900,61.8],[903,57.6],[906,54.2],[909,56.8],[912,58.4],[916,55],[920,59.5],[923,62],[926,57.4],[929,50.3],[932,53.2],[936,51.2],[940,50.4],[944,51.5],[948,51],[952,50.2],[956,51.6],[960,50.5],[964,53.5],[966,55.5],[970,52.2],[975,54.3],[979,53.4],[984,56.3],[988,52],[992,51.2],[996,50.8],[1000,52.8],[1005,55],[1010,52.2],[1014,53.1],[1018,53.8],[1022,51.3],[1026,52],[1030,50.6],[1033,56.5],[1038,54.7],[1042,52.6],[1046,52.3],[1050,49.8],[1055,50.6],[1060,51.4],[1064,50.2],[1068,52.3],[1072,51],[1076,50.3],[1079,52.6],[1080,50.9],[1082,50.6],[1085,52],[1089,49.3],[1093,49.6],[1097,50.9],[1101,49.2],[1104,51.2],[1107,50.5],[1108,54.8],[1114,49.4],[1118,52.5],[1122,50.6],[1126,52.3],[1130,52.5],[1135,51.6],[1139,50.4],[1143,51.1],[1148,50],[1152,50.4],[1156,50.4],[1160,49.6],[1164,51.3],[1168,52.4],[1171,55.7],[1175,52.6],[1179,51.9],[1183,51],[1191,53.1],[1196,54.8],[1200,51.4],[1203,53.4],[1207,51.5],[1211,52.6],[1215,51],[1219,52.5],[1223,50.3],[1231,49.5],[1233,54],[1237,50.2],[1240,51.6],[1242,56],[1244,53.5],[1248,51.8],[1255,51.7],[1259,50.4],[1262,53],[1271,55.8],[1272,56.5],[1275,53.6],[1280,56.9],[1283,52.6],[1286,62.7],[1289,52.3],[1292,53.7],[1296,51.9],[1300,50.4],[1303,52.5],[1306,53.2],[1308,56],[1312,54.8],[1315,56],[1317,55.7],[1318,63],[1321,53],[1324,52],[1328,51.7],[1331,52.8],[1334,51.2],[1338,50.6],[1341,53.7],[1346,51.4],[1351,55.4],[1353,52.2],[1357,51.5],[1361,54],[1365,50.6],[1369,54.8],[1372,51],[1375,52.2],[1378,50.5],[1386,51.8],[1390,55.1],[1394,52.2],[1398,50.6],[1401,52.2],[1403,57.2],[1407,50],[1410,53.2],[1413,79.7],[1415,49.8],[1418,50.8],[1422,50.8],[1426,47.2],[1429,53.6],[1431,56.4],[1434,54.8],[1439,60.4]];

const botZ = [[0,62.8],[10,63],[20,62.8],[30,62.8],[40,62.8],[50,62.8],[60,62.9],[70,63.4],[75,63.5],[80,62.9],[90,62.8],[100,62.8],[110,62.8],[120,62.8],[128,64.5],[135,64.8],[140,63],[150,62.9],[160,62.8],[170,62.6],[180,62.5],[190,62.6],[200,62.3],[210,62.5],[220,61.8],[230,61.6],[240,61],[250,60.8],[260,60.9],[265,64],[270,61.5],[280,61.3],[290,60.6],[300,60.7],[305,64.5],[310,61.5],[320,61],[330,60.7],[340,64.5],[345,62.5],[350,61.5],[355,64],[360,67],[370,66.7],[380,66.2],[390,65.8],[395,65.5],[400,66],[405,69],[410,68.5],[415,61],[420,60.5],[440,60.5],[460,60.6],[470,61.8],[480,61.3],[486,64],[490,64.5],[500,64.5],[505,60.8],[520,61.5],[530,60.5],[538,64.5],[545,64],[550,64.5],[556,68.5],[560,62],[570,60.8],[580,61],[590,60.8],[600,60.7],[610,60.8],[615,61.5],[620,61],[627,62.5],[635,61],[640,64.5],[645,63.5],[650,66],[655,62],[660,61.5],[668,64.5],[672,61.5],[675,64.5],[680,61],[690,60.5],[700,60.5],[706,61],[710,64.5],[716,64.6],[720,64],[730,62.5],[740,62.2],[750,63],[757,63.5],[765,62.5],[775,60.6],[790,60.5],[800,60.8],[805,70.5],[810,70.6],[820,69.8],[830,69.5],[836,70],[845,70],[855,70.2],[865,70.5],[870,68],[875,61.8],[885,61.8],[895,62.3],[903,64.5],[910,66],[915,63],[922,66],[926,66.5],[930,62],[940,61.8],[950,61.8],[960,61.8],[966,63.5],[972,61.6],[985,62.5],[990,61.6],[1000,61.7],[1007,62.5],[1015,62],[1025,61.7],[1036,62.5],[1045,61.8],[1050,60.8],[1060,60.7],[1070,60.7],[1080,60.3],[1100,60.2],[1120,60.2],[1140,60],[1160,59.8],[1180,59.6],[1195,60],[1205,59.6],[1215,60.3],[1225,59.4],[1235,59.6],[1240,62.5],[1250,62.8],[1260,62.8],[1268,66],[1275,62],[1280,62],[1286,67.8],[1292,64.5],[1300,64],[1310,65.8],[1318,66.5],[1322,62],[1330,61.5],[1340,61.5],[1350,61.4],[1360,61.5],[1370,62],[1380,61.6],[1390,61.7],[1400,62],[1407,68.5],[1413,66],[1420,65],[1425,62.5],[1432,62.5],[1436,64],[1439,72]];
const botC = [[0,61.2],[10,61.4],[20,61.2],[30,61.2],[40,61.2],[50,61.2],[60,61.3],[70,61.8],[75,61.9],[80,61.3],[90,61.2],[100,61.2],[110,61.2],[120,61.1],[128,62.7],[135,63],[140,61.3],[150,61.2],[160,61.1],[170,60.9],[180,60.7],[190,60.8],[200,60.5],[210,60.6],[220,60],[230,59.8],[240,59.2],[250,59],[260,59.1],[265,61.5],[270,59.6],[280,59.6],[290,58.9],[300,59],[305,62.5],[310,59.6],[320,59.2],[330,58.9],[340,62.5],[345,60.5],[350,59.5],[355,62],[360,65],[370,64.7],[380,64.2],[390,63.8],[395,63.5],[400,64],[405,67],[410,66.5],[415,59],[420,58.6],[440,58.7],[460,58.8],[470,60],[480,59.5],[486,62.3],[490,62.7],[500,62.7],[505,58.8],[520,59.5],[530,58.5],[538,62.5],[545,62],[550,62],[556,67.5],[560,60],[570,58.8],[580,59],[590,58.8],[600,58.7],[610,58.8],[615,59.5],[620,59],[627,60.5],[635,59],[640,62.5],[645,61.5],[650,64.5],[655,60],[660,59.5],[668,62.5],[672,59.5],[675,62.5],[680,58.8],[690,58.3],[700,58.3],[706,58.8],[710,62.8],[716,62.8],[720,62],[730,60.5],[740,60.2],[750,61],[757,61.5],[765,60.5],[775,58.8],[790,58.6],[800,59],[805,69.2],[810,69.3],[820,68.5],[830,68.2],[836,68.8],[845,68.8],[855,69],[865,69.3],[870,66.5],[875,60],[885,60],[895,60.5],[903,62.8],[910,64.5],[915,61.2],[922,64.5],[926,65],[930,60.2],[940,60],[950,60],[960,60],[966,61.8],[972,59.8],[985,60.8],[990,59.8],[1000,59.9],[1007,60.8],[1015,60.2],[1025,59.9],[1036,60.8],[1045,60],[1050,59],[1060,58.9],[1070,58.9],[1080,58.6],[1100,58.5],[1120,58.4],[1140,58.2],[1160,58],[1180,57.8],[1195,58.2],[1205,57.8],[1215,58.5],[1225,57.6],[1235,57.8],[1240,60.7],[1250,60.6],[1260,60.6],[1268,64.5],[1275,60.3],[1280,60.3],[1286,66.5],[1292,62.8],[1300,62.3],[1310,64.2],[1318,65],[1322,60.3],[1330,59.8],[1340,59.8],[1350,59.7],[1360,59.8],[1370,60.3],[1380,59.9],[1390,60],[1400,60.3],[1407,66.8],[1413,64.3],[1420,63.3],[1425,60.8],[1432,60.8],[1436,62.3],[1439,70]];
const botA = [[0,42.3],[10,43.2],[20,42],[30,42.6],[40,41],[50,42.8],[60,41.5],[69,47.5],[75,45],[80,42.5],[90,43],[100,42.3],[110,43.5],[120,42.8],[130,44.5],[140,43.4],[150,44.2],[160,43],[170,43.8],[180,42.8],[190,43.5],[200,42.5],[210,43.3],[220,42.6],[230,43.8],[240,43.8],[250,44.5],[260,44.3],[265,46.8],[270,44.8],[280,45.5],[290,44.8],[300,45],[306,48.5],[312,46],[320,46.3],[330,46],[340,49],[345,47],[355,47.8],[360,48.2],[370,48],[380,48.4],[390,48.5],[400,49.5],[405,51],[410,52.5],[415,46.5],[420,46.2],[440,46.5],[460,46.8],[470,49.5],[480,47.5],[490,49],[500,49.3],[505,46.5],[520,46.5],[538,48.5],[545,48.5],[550,50],[556,55.5],[562,47.5],[570,46.3],[590,46.8],[600,46.3],[614,47.8],[627,48.5],[640,47.5],[652,47],[667,50.5],[672,46.8],[680,46],[700,46],[708,50],[716,51],[720,49.5],[730,49],[740,51.8],[750,53],[760,54],[770,47.5],[780,46],[800,46],[805,49.5],[815,50],[830,52],[836,54],[845,53],[856,52],[865,53],[870,48.5],[880,48],[890,48.5],[900,51],[910,52],[920,53.5],[926,54.5],[930,48],[940,48.5],[950,48.2],[966,53.5],[972,48.5],[985,50],[1000,49],[1007,50.5],[1013,51],[1020,49.5],[1035,51],[1045,49.3],[1060,49],[1080,48.5],[1100,48],[1120,48.5],[1140,48],[1160,47.8],[1180,48.5],[1193,50],[1210,48.5],[1230,47.5],[1242,49],[1260,48.5],[1268,51],[1280,47.5],[1286,53],[1292,49],[1310,50],[1319,53.5],[1325,49.8],[1340,49.3],[1360,48.5],[1370,47],[1382,49],[1400,46.5],[1408,50],[1415,45],[1425,45.5],[1439,51]];
// 15 s max envelope spikes of dB(Z) (time, dB)
const envZmax = [[3,72],[8,77],[15,66],[45,66],[66,65],[69,67],[76,68],[126,70],[130,66.5],[136,69],[165,68],[180,67],[198,67.5],[211,66.5],[233,65],[264,75],[279,64],[306,85],[309,78],[318,67],[340,88],[348,72],[358,68],[362,68.5],[386,73],[390,67],[402,72],[411,71],[430,64],[469,68],[474,78],[485,68],[495,66],[503,72],[522,76],[538,73],[542,67],[555,76],[570,64],[582,70],[589,80],[600,68],[620,73],[640,69],[645,70],[652,73],[662,72],[669,70],[675,76.5],[690,70],[702,74],[709,76],[713,66],[717,70],[722,73.6],[728,66],[736,70.6],[742,66],[750,73],[756,75.5],[760,66],[771,73],[785,68],[795,66],[805,81],[808,73],[823,75],[830,72],[836,86],[840,72],[843,75],[852,73.5],[864,75.5],[870,73],[881,67],[888,65],[897,79],[900,70],[910,78],[914,70],[921,75],[926,77],[945,66],[965,72],[977,72.6],[986,72],[1007,74.5],[1014,74],[1026,70],[1037,80.5],[1045,68],[1069,66.6],[1088,64],[1107,64.5],[1128,64.5],[1140,64],[1149,63.5],[1168,62.5],[1193,64],[1207,74],[1225,66],[1231,69.5],[1234,71.5],[1239,68],[1243,69],[1259,66.5],[1268,73.7],[1280,67.3],[1286,79],[1294,68.6],[1308,73.8],[1318,76.7],[1331,66],[1360,68.7],[1370,72],[1386,67.5],[1396,70.4],[1402,75.3],[1408,75.4],[1413,80.4],[1418,69.6],[1421,73.6],[1426,66],[1432,69.8],[1437,76]];
const envZmax2 = [[1,70],[4,76],[12,68],[18,66],[25,67],[35,65],[42,69],[55,66],[62,67],[72,70],[78,71],[85,65],[95,66],[105,65.5],[115,66],[122,67],[128,72],[133,68],[140,66],[150,66],[160,67],[172,69],[178,66],[190,68],[195,66],[202,69],[220,65],[228,66],[245,64],[258,66],[262,72],[266,76],[272,66],[283,68],[295,65],[300,66],[304,79],[307,82],[315,70],[322,72],[330,66],[338,80],[342,74],[350,70],[355,74],[365,72],[372,70],[380,71],[388,75],[395,70],[400,72],[405,74],[408,76],[420,64],[435,66],[445,65],[460,66],[466,70],[472,74],[480,70],[488,70],[492,72],[498,70],[510,66],[518,70],[530,67],[535,72],[545,74],[550,76],[553,78],[558,80],[565,66],[575,70],[580,72],[586,74],[595,70],[605,66],[615,70],[618,74],[630,70],[635,72],[643,72],[648,74],[656,70],[660,74],[665,72],[672,74],[678,70],[685,68],[698,72],[705,74],[712,76],[715,72],[718,78],[720,76],[725,74],[730,72],[733,77],[738,74],[745,76],[748,78],[752,74],[758,72],[763,75],[768,74],[780,68],[790,69],[803,80],[812,76],[816,78],[820,74],[828,76],[833,82],[838,78],[846,76],[850,74],[858,76],[862,78],[868,75],[877,70],[885,72],[892,74],[895,76],[903,78],[907,76],[917,76],[923,78],[935,70],[940,72],[950,68],[960,70],[968,72],[975,70],[980,74],[995,70],[1000,72],[1010,70],[1030,72],[1034,76],[1055,66],[1062,68],[1080,64],[1095,66],[1120,65],[1135,66],[1170,64],[1185,66],[1210,68],[1220,65],[1237,70],[1245,74],[1252,70],[1262,72],[1266,76],[1276,70],[1283,74],[1288,78],[1298,70],[1304,74],[1312,72],[1316,77],[1326,68],[1345,66],[1355,70],[1368,72],[1378,68],[1392,70],[1398,72],[1404,74],[1411,78],[1416,74],[1423,70],[1428,76],[1434,74]];

// ---------------- DRAWING ----------------
const svg = d3.select("#c");
const X0 = 59, X1 = 2343;
const x = d3.scaleLinear().domain([0,1440]).range([X0,X1]);
const tickFont = "8.4px";

svg.append("text").attr("x",24).attr("y",23).style("font-weight","bold").style("font-size","13px").text("data from [5006/mic0]");
svg.append("text").attr("x",24).attr("y",38).style("font-weight","bold").style("font-size","13px").text("starting point is [20240117_000011]");

function interp(series, t){
  const i = d3.bisector(d=>d[0]).left(series, t);
  if(i<=0) return series[0][1];
  if(i>=series.length) return series[series.length-1][1];
  const a=series[i-1], b=series[i];
  return a[1]+(b[1]-a[1])*(t-a[0])/(b[0]-a[0]);
}

function panel(top, bottom, title, fmt, id){
  const y = d3.scaleLinear().domain([24,108]).range([bottom, top]);
  const g = svg.append("g");
  g.append("rect").attr("x",X0).attr("y",top).attr("width",X1-X0).attr("height",bottom-top).attr("fill","#fff8dc");
  svg.append("clipPath").attr("id",id).append("rect").attr("x",X0).attr("y",top).attr("width",X1-X0).attr("height",bottom-top);
  const minorY = d3.range(24,109,4).filter(v=>v%12!==0);
  const minorX = d3.range(0,1441,30).filter(v=>v%120!==0);
  g.selectAll(null).data(minorY).join("line").attr("x1",X0).attr("x2",X1).attr("y1",d=>y(d)).attr("y2",d=>y(d))
    .attr("stroke","#c9c3b3").attr("stroke-width",0.8).attr("stroke-dasharray","3,2");
  g.selectAll(null).data(minorX).join("line").attr("y1",top).attr("y2",bottom).attr("x1",d=>x(d)).attr("x2",d=>x(d))
    .attr("stroke","#d6cfbd").attr("stroke-width",0.8).attr("stroke-dasharray","2,2");
  g.selectAll(null).data(dbTicks).join("line").attr("x1",X0).attr("x2",X1).attr("y1",d=>y(d)).attr("y2",d=>y(d))
    .attr("stroke","#b0b0b0").attr("stroke-width",1.3);
  g.selectAll(null).data(hourTicks.map(h=>h*60)).join("line").attr("y1",top).attr("y2",bottom).attr("x1",d=>x(d)).attr("x2",d=>x(d))
    .attr("stroke","#b0b0b0").attr("stroke-width",1.3);
  const plot = svg.append("g").attr("clip-path",`url(#${id})`);
  const axL = d3.axisLeft(y).tickValues(dbTicks).tickSize(6).tickPadding(4).tickFormat(d3.format("d"));
  const axLm = d3.axisLeft(y).tickValues(minorY).tickSize(3.5).tickFormat("");
  const axR = d3.axisRight(y).tickValues(dbTicks).tickSize(6).tickPadding(4).tickFormat(d3.format("d"));
  const axRm = d3.axisRight(y).tickValues(minorY).tickSize(3.5).tickFormat("");
  const axB = d3.axisBottom(x).tickValues(hourTicks.map(h=>h*60)).tickSize(6).tickPadding(6).tickFormat(fmt);
  const axBm = d3.axisBottom(x).tickValues(minorX.filter(v=>v<1440)).tickSize(3.5).tickFormat("");
  const axesG = svg.append("g");
  [[axL,`translate(${X0},0)`],[axLm,`translate(${X0},0)`],[axR,`translate(${X1},0)`],[axRm,`translate(${X1},0)`],[axB,`translate(0,${bottom})`],[axBm,`translate(0,${bottom})`]].forEach(([a,tr])=>{
    const ag = axesG.append("g").attr("transform",tr).call(a);
    ag.select(".domain").remove();
    ag.selectAll("line").attr("stroke","#000").attr("stroke-width",0.9);
    ag.selectAll("text").style("font-size",tickFont).style("font-family","DejaVu Sans").attr("fill","#222");
  });
  svg.append("text").attr("x",X0).attr("y",top-8).style("font-weight","bold").style("font-size","11.6px").text(title);
  svg.append("text").attr("transform",`translate(19,${(top+bottom)/2}) rotate(-90)`).attr("text-anchor","middle").style("font-size","11.5px").text("dB SPL");
  svg.append("text").attr("transform",`translate(2388,${(top+bottom)/2}) rotate(-90)`).attr("text-anchor","middle").style("font-size","11.5px").text("dB SPL");
  svg.append("text").attr("x",(X0+X1)/2).attr("y",bottom+36).attr("text-anchor","middle").style("font-size","11.5px").text("time");
  const frame = () => svg.append("rect").attr("x",X0).attr("y",top).attr("width",X1-X0).attr("height",bottom-top).attr("fill","none").attr("stroke","#000").attr("stroke-width",1.3);
  return {y, plot, frame};
}

const hh = d=>String(d/60).padStart(2,"0");
// ---------- top panel ----------
const P1 = panel(84, 588, "average and peak noise level (1 min sampling)", d=>hh(d)+":00", "clipTop");
{
  const {y, plot, frame} = P1;
  const dot = (data, color) => plot.append("g").selectAll("circle").data(data).join("circle")
     .attr("cx",d=>x(d[0])).attr("cy",d=>y(d[1])).attr("r",1.35).attr("fill",color);
  dot(peakA, "#2e8b57");
  dot(peakCband.map((v,i)=>[i*5+1,v]), "#ff33ff");
  dot(peakCband2.map((v,i)=>[i*5+3.5,v]), "#ff33ff");
  dot(peakCout, "#ff33ff");
  dot(peakZband.map((v,i)=>[i*5,v]), "#3fa0ff");
  dot(peakZband2.map((v,i)=>[i*5+2.5,v]), "#3fa0ff");
  dot(peakZout, "#3fa0ff");
  const line = d3.line().x(d=>x(d[0])).y(d=>y(d[1]));
  plot.append("path").attr("d",line(avgZ)).attr("fill","none").attr("stroke","#4682b4").attr("stroke-width",1.5);
  plot.append("path").attr("d",line(avgC)).attr("fill","none").attr("stroke","#e07ad8").attr("stroke-width",1.5);
  plot.append("path").attr("d",line(avgA)).attr("fill","none").attr("stroke","#9acd32").attr("stroke-width",1.5);
  frame();
  const lg = svg.append("g");
  lg.append("rect").attr("x",2155).attr("y",543).attr("width",183).attr("height",40).attr("rx",3).attr("fill","#fff8e1").attr("fill-opacity",0.85).attr("stroke","#d8c292");
  const peaks = [["peak dB(Z)","#3fa0ff"],["peak dB(C)","#ff33ff"],["peak dB(A)","#2e8b57"]];
  const avgs = [["avg dB(Z)","#4682b4"],["avg dB(C)","#e07ad8"],["avg dB(A)","#9acd32"]];
  peaks.forEach((p,i)=>{
    const yy = 549.5+i*11.8;
    lg.append("circle").attr("cx",2169).attr("cy",yy).attr("r",2.3).attr("fill",p[1]);
    lg.append("text").attr("x",2186).attr("y",yy+3.4).style("font-size","9.6px").text(p[0]);
  });
  avgs.forEach((p,i)=>{
    const yy = 549.5+i*11.8;
    lg.append("line").attr("x1",2258).attr("x2",2280).attr("y1",yy).attr("y2",yy).attr("stroke",p[1]).attr("stroke-width",3.2);
    lg.append("text").attr("x",2286).attr("y",yy+3.4).style("font-size","9.6px").text(p[0]);
  });
}
// ---------- bottom panel ----------
const P2 = panel(645, 1149, "average noise level (5 min with 15s min/max dB envelope)", d=>hh(d)+":00:00", "clipBot");
{
  const {y, plot, frame} = P2;
  const spikes = envZmax.concat(envZmax2);
  plot.append("g").selectAll("line").data(spikes).join("line")
    .attr("x1",d=>x(d[0])).attr("x2",d=>x(d[0]))
    .attr("y1",d=>y(interp(botZ,d[0]))).attr("y2",d=>y(d[1]))
    .attr("stroke","#f29a88").attr("stroke-opacity",0.5).attr("stroke-width",1.6);
  const bandZ = d3.area().x(d=>x(d[0])).y0(d=>y(interp(botC,d[0])-0.8)).y1(d=>y(d[1]+0.9));
  plot.append("path").attr("d",bandZ(botZ)).attr("fill","#f7b49e").attr("fill-opacity",0.45);
  const bandC = d3.area().x(d=>x(d[0])).y0(d=>y(d[1]-0.7)).y1(d=>y(d[1]+0.6));
  plot.append("path").attr("d",bandC(botC)).attr("fill","#ffb466").attr("fill-opacity",0.4);
  const line = d3.line().x(d=>x(d[0])).y(d=>y(d[1]));
  plot.append("path").attr("d",line(botA)).attr("fill","none").attr("stroke","#ffd700").attr("stroke-width",1.6);
  plot.append("path").attr("d",line(botC)).attr("fill","none").attr("stroke","#ff8c00").attr("stroke-width",1.6);
  plot.append("path").attr("d",line(botZ)).attr("fill","none").attr("stroke","#dc143c").attr("stroke-width",1.6);
  frame();
  const lg = svg.append("g");
  lg.append("rect").attr("x",2277).attr("y",1103).attr("width",61).attr("height",41).attr("rx",3).attr("fill","#fff8e1").attr("fill-opacity",0.85).attr("stroke","#d8c292");
  [["dB(Z)","#dc143c"],["dB(C)","#ff8c00"],["dB(A)","#ffd700"]].forEach((p,i)=>{
    const yy = 1111.5+i*11.8;
    lg.append("line").attr("x1",2279).attr("x2",2301).attr("y1",yy).attr("y2",yy).attr("stroke",p[1]).attr("stroke-width",3.2);
    lg.append("text").attr("x",2307).attr("y",yy+3.4).style("font-size","9.6px").text(p[0]);
  });
}
</script>
</body></html>
